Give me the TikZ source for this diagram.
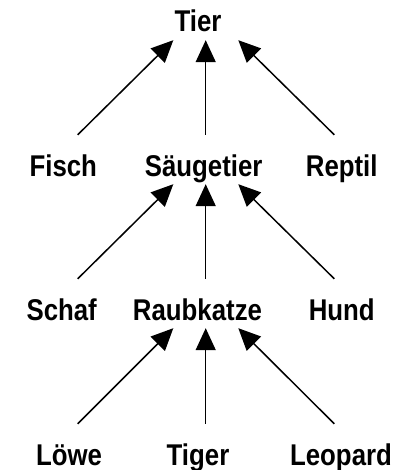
\documentclass[tikz,border=0pt]{standalone}
\usepackage{fontspec}
\usetikzlibrary{arrows.meta}
\newfontfamily\labfont{Liberation Sans}[FakeStretch=0.86]
\begin{document}
\begin{tikzpicture}[x=1pt,y=-1pt,
  lab/.style={anchor=base, inner xsep=0pt, inner ysep=2pt,
    text height=39pt, text depth=6pt,
    font=\labfont\bfseries\fontsize{30}{30}\selectfont},
  arr/.style={line width=1.5pt, -{Triangle[length=22pt,width=20pt]}}]
\useasboundingbox (0,0) rectangle (403,470);
% level 1
\node[lab] (tier) at (198,32) {Tier};
% level 2
\node[lab] (fisch) at (63.3,176) {Fisch};
\node[lab] (saeug) at (203.7,176) {Säugetier};
\node[lab] (rept) at (341.7,176) {Reptil};
% level 3
\node[lab] (schaf) at (61.7,320) {Schaf};
\node[lab] (raub) at (197.5,320) {Raubkatze};
\node[lab] (hund) at (341.7,320) {Hund};
% level 4
\node[lab] (loewe) at (69,465) {Löwe};
\node[lab] (tiger) at (198,465) {Tiger};
\node[lab] (leo) at (341,465) {Leopard};
% connectors: child -> parent
\draw[arr] ([xshift=14.4pt]fisch.north) -- ([xshift=-24.7pt]tier.south);
\draw[arr] ([xshift=2pt]saeug.north) -- ([xshift=7.7pt]tier.south);
\draw[arr] ([xshift=-7.4pt]rept.north) -- ([xshift=40.3pt]tier.south);
\draw[arr] ([xshift=16pt]schaf.north) -- ([xshift=-30.4pt]saeug.south);
\draw[arr] ([xshift=8.2pt]raub.north) -- ([xshift=2pt]saeug.south);
\draw[arr] ([xshift=-7.4pt]hund.north) -- ([xshift=34.6pt]saeug.south);
\draw[arr] ([xshift=8.7pt]loewe.north) -- ([xshift=-24.2pt]raub.south);
\draw[arr] ([xshift=7.7pt]tiger.north) -- ([xshift=8.2pt]raub.south);
\draw[arr] ([xshift=-6.7pt]leo.north) -- ([xshift=40.8pt]raub.south);
\end{tikzpicture}
\end{document}
